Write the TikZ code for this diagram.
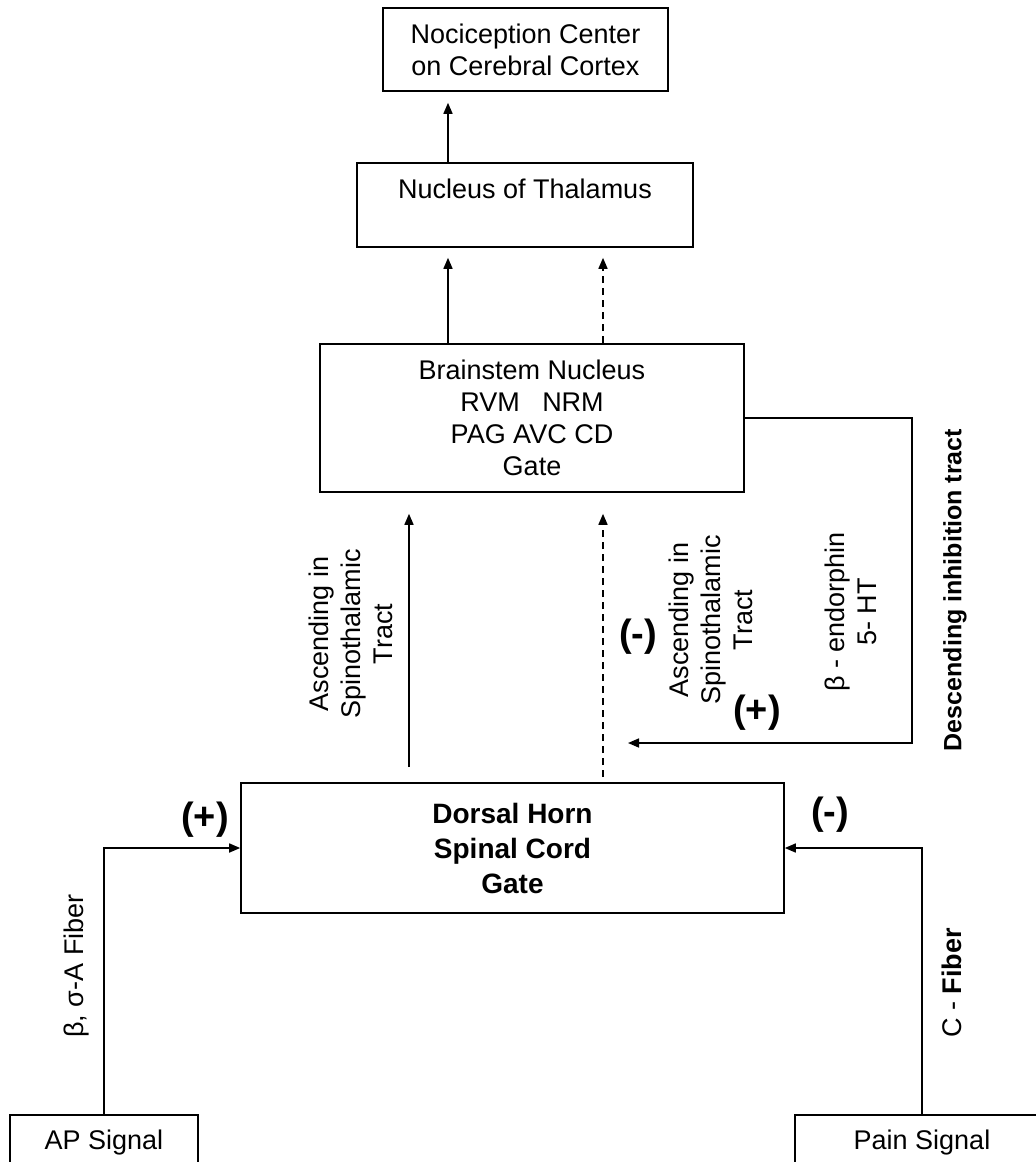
\documentclass[tikz,border=0pt]{standalone}
\usepackage{fontspec}
\setmainfont{Liberation Sans}
\usepackage{tikz}
\usetikzlibrary{positioning,arrows.meta,calc}
\newcommand{\basefont}{\fontsize{27}{32}\selectfont}
\newcommand{\signfont}{\fontsize{38}{42}\selectfont\bfseries}

\begin{document}
\begin{tikzpicture}[x=1pt,y=-1pt,
  box/.style={draw,line width=1.6pt,inner sep=0pt,align=center,font=\basefont},
  lbl/.style={align=center,font=\basefont,rotate=90,inner sep=0pt},
  sign/.style={font=\signfont,inner sep=0pt},
  arr/.style={line width=1.6pt,-{Triangle[length=11pt,width=9pt]}},
  dashln/.style={dash pattern=on 7pt off 5pt}]
  \clip (0,0) rectangle (1036,1162);
  \fill[white] (0,0) rectangle (1036,1162);
  % boxes
  \node[box,minimum width=285pt,minimum height=83pt] (cortex) at (525.5,49.5) {Nociception Center\\on Cerebral Cortex};
  \node[box,minimum width=336pt,minimum height=84pt] (thalamus) at (525,205) {Nucleus of Thalamus\\\mbox{}};
  \node[box,minimum width=424pt,minimum height=148pt] (brainstem) at (532,418) {Brainstem Nucleus\\RVM \ \ NRM\\PAG AVC CD\\Gate};
  \node[box,minimum width=543pt,minimum height=130pt,font=\fontsize{28}{35}\selectfont\bfseries] (dorsal) at (512.5,848) {Dorsal Horn\\Spinal Cord\\Gate};
  \node[box,minimum width=188pt,minimum height=56pt] (ap) at (104,1143) {AP Signal};
  \node[box,minimum width=254pt,minimum height=56pt] (pain) at (922,1143) {Pain Signal};
  \coordinate (colA) at (448,0);
  \coordinate (colB) at (603,0);
  \coordinate (colC) at (409,0);
  \coordinate (inhib) at (628,743);
  % ascending
  \draw[arr,shorten >=11pt] (thalamus.north -| colA) -- (cortex.south -| colA);
  \draw[arr,shorten >=10pt] (brainstem.north -| colA) -- (thalamus.south -| colA);
  \draw[arr,dashln,shorten >=10pt] (brainstem.north -| colB) -- (thalamus.south -| colB);
  \draw[arr,shorten <=15pt,shorten >=21pt] (dorsal.north -| colC) -- (brainstem.south -| colC);
  \draw[arr,dashln,shorten <=5pt,shorten >=21pt] (dorsal.north -| colB) -- (brainstem.south -| colB);
  % descending
  \draw[arr] (brainstem.east) -| (912,743) -- (inhib);
  % fibers
  \draw[arr] (ap.north) |- (dorsal.west);
  \draw[arr] (pain.north) |- (dorsal.east);
  % labels
  \node[lbl] (ascL) at (351,634) {Ascending in\\Spinothalamic\\Tract};
  \node[lbl] (ascR) at (711,620) {Ascending in\\Spinothalamic\\Tract};
  \node[lbl] (endo) at (851,612) {β - endorphin\\5- HT};
  \node[lbl,font=\fontsize{25}{30}\selectfont\bfseries] (desc) at (955,590) {Descending inhibition tract};
  \node[lbl] (fibAP) at (77,966) {β, σ-A Fiber};
  \node[lbl] (fibC) at (952,983) {C - \textbf{Fiber}};
  \node[sign] (minA) at (638,637) {(-)};
  \node[sign] (plusA) at (757,713) {(+)};
  \node[sign] (plusB) at (205,820) {(+)};
  \node[sign] (minB) at (830,815) {(-)};
\end{tikzpicture}
\end{document}
